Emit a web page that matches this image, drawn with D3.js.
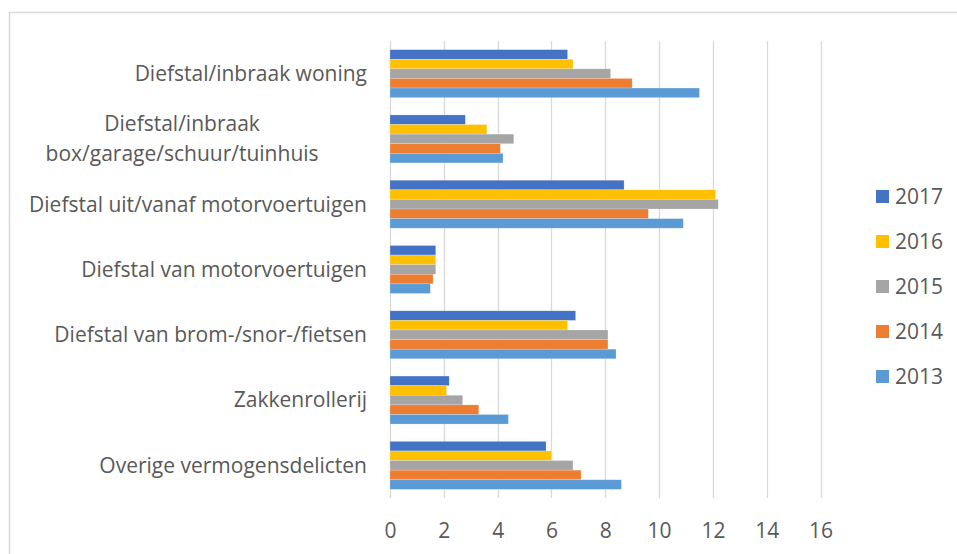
<!DOCTYPE html>
<html>
<head>
<meta charset="utf-8">
<script src="https://cdn.jsdelivr.net/npm/d3@7"></script>
<style>
  body { margin: 0; background: #fff; }
  text { font-family: "Open Sans", sans-serif; fill: #595959; }
</style>
</head>
<body>
<script>
// categories, top to bottom
var categories = [
    ["Diefstal/inbraak woning"],
    ["Diefstal/inbraak", "box/garage/schuur/tuinhuis"],
    ["Diefstal uit/vanaf motorvoertuigen"],
    ["Diefstal van motorvoertuigen"],
    ["Diefstal van brom-/snor-/fietsen"],
    ["Zakkenrollerij"],
    ["Overige vermogensdelicten"]
];
// series values, same order as categories
var years = ["2017", "2016", "2015", "2014", "2013"];
var v2017 = [6.6, 2.8, 8.7, 1.7, 6.9, 2.2, 5.8];
var v2016 = [6.8, 3.6, 12.1, 1.7, 6.6, 2.1, 6.0];
var v2015 = [8.2, 4.6, 12.2, 1.7, 8.1, 2.7, 6.8];
var v2014 = [9.0, 4.1, 9.6, 1.6, 8.1, 3.3, 7.1];
var v2013 = [11.5, 4.2, 10.9, 1.5, 8.4, 4.4, 8.6];
var xTicks = [0, 2, 4, 6, 8, 10, 12, 14, 16];

var w = 957, h = 554;
var colors = {"2017": "#4472C4", "2016": "#FFC000", "2015": "#A5A5A5", "2014": "#ED7D31", "2013": "#5B9BD5"};
var seriesValues = {"2017": v2017, "2016": v2016, "2015": v2015, "2014": v2014, "2013": v2013};

var svg = d3.select("body").append("svg")
    .attr("width", w)
    .attr("height", h);

//chart border
svg.append("rect")
    .attr("x", 9.5).attr("y", 12.5)
    .attr("width", w).attr("height", h)
    .style("fill", "#fff")
    .style("stroke", "#d9d9d9")
    .style("stroke-width", 1.5);

var x = d3.scaleLinear().domain([0, 16]).range([390, 820.5]);

var y = d3.scaleBand()
    .domain(d3.range(categories.length))
    .range([41, 498])
    .paddingInner(0.265)
    .paddingOuter(0.1325);

var yInner = d3.scaleBand()
    .domain(years)
    .range([0, y.bandwidth()]);

//gridlines
svg.append("g").selectAll("line")
    .data(xTicks)
    .enter().append("line")
    .attr("x1", function(d){ return Math.round(x(d)) + 0.5; })
    .attr("x2", function(d){ return Math.round(x(d)) + 0.5; })
    .attr("y1", 41)
    .attr("y2", 498)
    .style("stroke", "#d9d9d9")
    .style("stroke-width", 1.3);

//bars
var groups = svg.append("g").selectAll("g")
    .data(categories)
    .enter().append("g")
    .attr("transform", function(d, i){ return "translate(0," + y(i) + ")"; });

groups.selectAll("rect")
    .data(function(d, i){
        return years.map(function(yr){ return {year: yr, value: seriesValues[yr][i]}; });
    })
    .enter().append("rect")
    .attr("x", x(0))
    .attr("y", function(d){ return yInner(d.year); })
    .attr("width", function(d){ return x(d.value) - x(0); })
    .attr("height", yInner.bandwidth())
    .style("fill", function(d){ return colors[d.year]; })
    .style("stroke", "rgba(255,255,255,0.35)")
    .style("stroke-width", 0.6);

//x axis labels
var xAxis = d3.axisBottom(x).tickValues(xTicks).tickSize(0).tickPadding(0);
var xg = svg.append("g")
    .attr("transform", "translate(0,498)")
    .call(xAxis);
xg.select(".domain").remove();
xg.selectAll("text")
    .attr("dy", null)
    .attr("y", 40)
    .style("font-family", "Open Sans, sans-serif")
    .style("font-size", "21px")
    .style("fill", "#595959");

//category labels
var labels = svg.append("g").selectAll("text")
    .data(categories)
    .enter().append("text")
    .attr("text-anchor", "middle")
    .style("font-size", "21px");

labels.each(function(d, i){
    var t = d3.select(this);
    var cy = y(i) + y.bandwidth() / 2;
    var lineH = 30;
    d.forEach(function(line, j){
        t.append("tspan")
            .attr("y", cy + (j - (d.length - 1) / 2) * lineH)
            .attr("dy", "0.35em")
            .text(line);
    });
    //right-align the block at 367
    var bw = this.getBBox().width;
    t.selectAll("tspan").attr("x", 367 - bw / 2);
});

//legend
var legend = svg.append("g").selectAll("g")
    .data(years)
    .enter().append("g")
    .attr("transform", function(d, i){ return "translate(876," + (196.5 + i * 45) + ")"; });

legend.append("rect")
    .attr("x", 0).attr("y", -6.5)
    .attr("width", 13).attr("height", 13)
    .style("fill", function(d){ return colors[d]; });

legend.append("text")
    .attr("x", 19)
    .attr("dy", "0.35em")
    .style("font-size", "21px")
    .text(function(d){ return d; });
</script>
</body>
</html>
